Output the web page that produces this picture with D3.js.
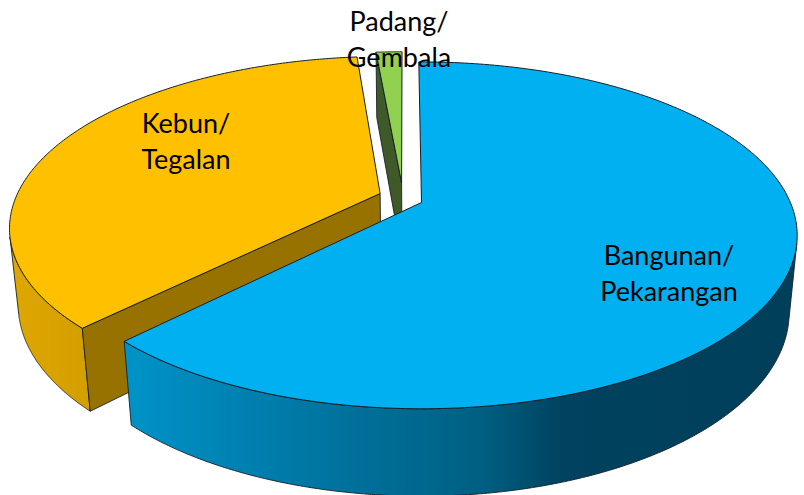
<!DOCTYPE html>
<html><head><meta charset="utf-8">
<script src="https://cdn.jsdelivr.net/npm/d3@7"></script>
<style>html,body{margin:0;padding:0;background:#fff;overflow:hidden}</style>
</head><body>
<svg id="c" width="804" height="495"></svg>
<script>
const categories = ["Bangunan/Pekarangan","Kebun/Tegalan","Padang/Gembala"];
const values = [62.4,36.2,1.4];
const topColors = ["#00B0F0","#FFC000","#92D050"];
const sideColors = ["#977200","#977200","#3f5a28"];
const labelLines = [["Bangunan/","Pekarangan"],["Kebun/","Tegalan"],["Padang/","Gembala"]];
const explode = [[0,0],[-0.113,-0.054],[-0.055,-0.12]];
const radii = [0.997,0.99,0.965];
const labelPos = [[669,256],[186,124],[399,22]];

const svg = d3.select("#c");
const cx=421.5, cy=202.5, rx=370, ry=167.7, k=0.19;
const depthW=0.021, depthD=77;
const rot=-0.5*Math.PI/180;

function proj(x,y,bottom){
  const w=1-k*y+(bottom?depthW:0);
  return [cx+rx*x/w, cy+(ry*y+(bottom?depthD:0))/w];
}
const pie=d3.pie().sort(null).value(d=>d).startAngle(rot).endAngle(rot+2*Math.PI);
const arcs=pie(values);
const pt=(i,a,rad,b)=>proj(explode[i][0]+rad*Math.sin(a),explode[i][1]-rad*Math.cos(a),b);
const N=240;
const anglesOf=(a0,a1)=>d3.range(0,N+1).map(j=>a0+(a1-a0)*j/N);
const line=d3.line();
const stroke="#14202a";

const defs=svg.append("defs");
const g1=defs.append("linearGradient").attr("id","gb").attr("gradientUnits","userSpaceOnUse")
 .attr("x1",125).attr("x2",800).attr("y1",0).attr("y2",0);
[[0,"#0093c8"],[0.26,"#0078a5"],[0.53,"#005f82"],[0.65,"#00425f"],[1,"#003f5a"]].forEach(s=>g1.append("stop").attr("offset",s[0]).attr("stop-color",s[1]));
const g2=defs.append("linearGradient").attr("id","go").attr("gradientUnits","userSpaceOnUse")
 .attr("x1",10).attr("x2",90).attr("y1",0).attr("y2",0);
[[0,"#dfa700"],[1,"#d39e00"]].forEach(s=>g2.append("stop").attr("offset",s[0]).attr("stop-color",s[1]));

// Find the silhouette edge joining top rim and bottom rim, as the hull edge farthest from centre
function tangent(i,a0,a1){
  const angs=anglesOf(a0,a1), pts=[];
  angs.forEach(a=>{
    const t=pt(i,a,radii[i],false); t.a=a; t.b=false; pts.push(t);
    const u=pt(i,a,radii[i],true); u.a=a; u.b=true; pts.push(u);
  });
  const h=d3.polygonHull(pts); let best=null,bd=-1;
  h.forEach((p,j)=>{
    const q=h[(j+1)%h.length];
    if(p.b!==q.b){
      const d=Math.abs((p[0]+q[0])/2-cx);
      if(d>bd){bd=d;best=p.b?{t:q.a,b:p.a}:{t:p.a,b:q.a};}
    }
  });
  return best;
}
function wallOuter(i,fill,rimStart,rimEnd,forward){
  const a0=arcs[i].startAngle,a1=arcs[i].endAngle;
  const tg=tangent(i,rimStart,rimEnd);
  let pts;
  if(forward){ // visible from tangent to end angle
    pts=anglesOf(tg.b,a1).map(a=>pt(i,a,radii[i],true)).concat(anglesOf(a1,tg.t).map(a=>pt(i,a,radii[i],false)));
  } else {     // visible from start angle to tangent
    pts=anglesOf(a0,tg.t).map(a=>pt(i,a,radii[i],false)).concat(anglesOf(tg.b,a0).map(a=>pt(i,a,radii[i],true)));
  }
  svg.append("path").attr("d",line(pts)+"Z").attr("fill",fill).attr("stroke",stroke).attr("stroke-width",0.9);
}
function wallRadial(i,a,fill){
  const pts=[pt(i,a,0,false),pt(i,a,radii[i],false),pt(i,a,radii[i],true),pt(i,a,0,true)];
  svg.append("path").attr("d",line(pts)+"Z").attr("fill",fill).attr("stroke",stroke).attr("stroke-width",0.9);
}
function topFace(i){
  const a0=arcs[i].startAngle,a1=arcs[i].endAngle;
  const pts=[pt(i,a0,0,false)].concat(anglesOf(a0,a1).map(a=>pt(i,a,radii[i],false)));
  svg.append("path").attr("d",line(pts)+"Z").attr("fill",topColors[i]).attr("stroke",stroke).attr("stroke-width",1);
}
const rad=d=>d*Math.PI/180;
// back to front
wallOuter(1,"url(#go)",rad(250),rad(310),false);
wallRadial(1,arcs[1].startAngle,sideColors[1]);
topFace(1);
wallRadial(2,arcs[2].startAngle,sideColors[2]);
topFace(2);
wallOuter(0,"url(#gb)",rad(50),rad(130),true);
topFace(0);

labelLines.forEach((ls,i)=>{
  const t=svg.append("text").attr("font-family","Lato, 'Open Sans', sans-serif").attr("font-size",27).attr("fill","#000").attr("text-anchor","middle");
  ls.forEach((s,j)=>t.append("tspan").attr("x",labelPos[i][0]).attr("y",labelPos[i][1]+9+j*36).text(s));
});
</script>
</body></html>
